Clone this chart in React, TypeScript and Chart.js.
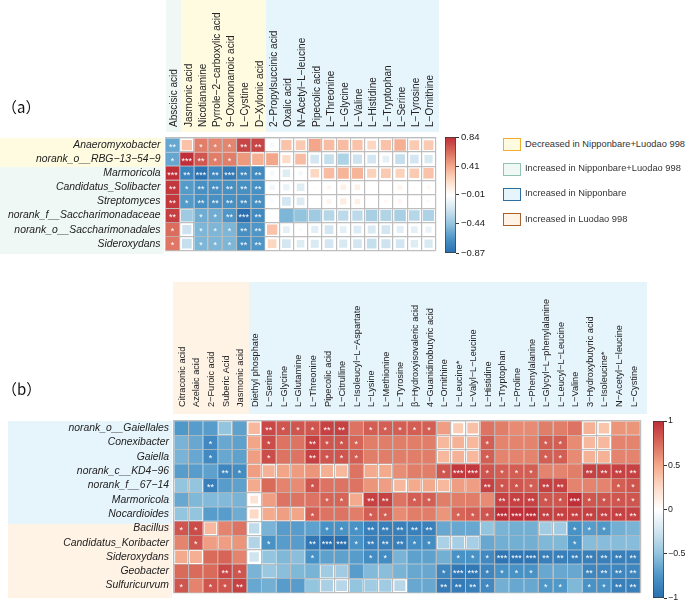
import React, { useEffect, useRef } from "react";
import { Chart, registerables } from "chart.js";
Chart.register(...registerables);

const FONT = "'Liberation Sans', Arial, sans-serif";

// ---------- panel (a) ----------
const taxaA = ["Anaeromyxobacter", "norank_o__RBG−13−54−9", "Marmoricola", "Candidatus_Solibacter", "Streptomyces", "norank_f__Saccharimonadaceae", "norank_o__Saccharimonadales", "Sideroxydans"];
const metabolitesA = ["Abscisic acid", "Jasmonic acid", "Nicotianamine", "Pyrrole−2−carboxylic acid", "9−Oxononanoic acid", "L−Cystine", "D−Xylonic acid", "2−Propylsuccinic acid", "Oxalic acid", "N−Acetyl−L−leucine", "Pipecolic acid", "L−Threonine", "L−Glycine", "L−Valine", "L−Histidine", "L−Tryptophan", "L−Serine", "L−Tyrosine", "L−Ornithine"];
const valuesA = [
  [-0.55, 0.28, 0.5, 0.48, 0.48, 0.68, 0.68, -0.05, 0.28, 0.25, 0.38, 0.3, 0.3, 0.28, 0.2, 0.28, 0.35, 0.25, 0.25],
  [-0.55, 0.8, 0.62, 0.5, 0.5, 0.42, 0.35, 0.38, 0.18, 0.3, -0.2, -0.25, -0.33, -0.22, -0.2, -0.12, -0.25, -0.2, -0.18],
  [0.84, -0.72, -0.82, -0.7, -0.78, -0.7, -0.68, -0.05, -0.15, -0.05, 0.2, 0.3, 0.33, 0.33, 0.22, 0.25, 0.22, 0.25, 0.28],
  [0.72, -0.6, -0.65, -0.65, -0.65, -0.65, -0.65, -0.07, -0.1, -0.15, 0.02, 0.05, 0.08, 0.08, 0.01, 0.01, 0.06, 0.02, 0.04],
  [0.72, -0.6, -0.65, -0.65, -0.65, -0.68, -0.65, -0.03, -0.2, -0.16, 0.01, 0.06, 0.1, 0.08, 0.01, 0.03, 0.05, 0.01, 0.03],
  [0.7, -0.38, -0.52, -0.52, -0.62, -0.87, -0.68, -0.01, -0.48, -0.42, -0.38, -0.3, -0.28, -0.28, -0.35, -0.32, -0.35, -0.3, -0.33],
  [0.55, -0.22, -0.48, -0.48, -0.48, -0.65, -0.62, 0.28, -0.12, -0.03, -0.13, -0.2, -0.12, -0.16, -0.17, -0.2, -0.13, -0.12, -0.1],
  [0.52, -0.25, -0.48, -0.48, -0.48, -0.65, -0.62, 0.2, -0.2, -0.15, -0.17, -0.2, -0.18, -0.2, -0.25, -0.22, -0.2, -0.15, -0.18],
];
const starsA = [
  ["**", "", "*", "*", "*", "**", "**"],
  ["*", "***", "**", "*", "*", "", ""],
  ["***", "**", "***", "**", "***", "**", "**"],
  ["**", "*", "**", "**", "**", "**", "**"],
  ["**", "*", "**", "**", "**", "**", "**"],
  ["**", "", "*", "*", "**", "***", "**"],
  ["*", "", "*", "*", "*", "**", "**"],
  ["*", "", "*", "*", "*", "**", "**"],
];

// ---------- panel (b) ----------
const taxaB = ["norank_o__Gaiellales", "Conexibacter", "Gaiella", "norank_c__KD4−96", "norank_f__67−14", "Marmoricola", "Nocardioides", "Bacillus", "Candidatus_Koribacter", "Sideroxydans", "Geobacter", "Sulfuricurvum"];
const metabolitesB = ["Citraconic acid", "Azelaic acid", "2−Furoic acid", "Suberic Acid", "Jasmonic acid", "Diethyl phosphate", "L−Serine", "L−Glycine", "L−Glutamine", "L−Threonine", "Pipecolic acid", "L−Citrulline", "L−Isoleucyl−L−Aspartate", "L−Lysine", "L−Methionine", "L−Tyrosine", "β−Hydroxyisovaleric acid", "4−Guanidinobutyric acid", "L−Ornithine", "L−Leucine*", "L−Valyl−L−Leucine", "L−Histidine", "L−Tryptophan", "L−Proline", "L−Phenylalanine", "L−Glycyl−L−phenylalanine", "L−Leucyl−L−Leucine", "L−Valine", "3−Hydroxybutyric acid", "L−Isoleucine*", "N−Acetyl−L−leucine", "L−Cystine"];
const valuesB = [
  [-0.62, -0.6, -0.6, -0.42, -0.58, 0.33, 0.7, 0.65, 0.65, 0.65, 0.72, 0.72, 0.55, 0.62, 0.62, 0.62, 0.62, 0.62, 0.42, 0.25, 0.3, 0.55, 0.52, 0.48, 0.48, 0.52, 0.52, 0.55, 0.35, 0.28, 0.45, 0.45],
  [-0.5, -0.55, -0.7, -0.55, -0.58, 0.4, 0.68, 0.55, 0.55, 0.72, 0.65, 0.65, 0.6, 0.52, 0.52, 0.52, 0.52, 0.52, 0.33, 0.35, 0.33, 0.62, 0.5, 0.5, 0.5, 0.62, 0.62, 0.48, 0.33, 0.33, 0.5, 0.5],
  [-0.5, -0.55, -0.7, -0.55, -0.58, 0.42, 0.68, 0.55, 0.55, 0.72, 0.65, 0.65, 0.62, 0.52, 0.52, 0.52, 0.52, 0.52, 0.33, 0.35, 0.33, 0.62, 0.5, 0.5, 0.5, 0.62, 0.62, 0.48, 0.35, 0.35, 0.5, 0.5],
  [-0.6, -0.6, -0.58, -0.72, -0.68, 0.42, 0.35, 0.4, 0.43, 0.45, 0.36, 0.33, 0.55, 0.38, 0.38, 0.47, 0.52, 0.52, 0.65, 0.75, 0.75, 0.65, 0.62, 0.62, 0.62, 0.5, 0.5, 0.52, 0.72, 0.72, 0.72, 0.72],
  [-0.42, -0.42, -0.75, -0.6, -0.58, 0.38, 0.58, 0.5, 0.48, 0.65, 0.55, 0.55, 0.55, 0.45, 0.42, 0.33, 0.38, 0.38, 0.33, 0.42, 0.42, 0.72, 0.65, 0.65, 0.62, 0.72, 0.72, 0.5, 0.5, 0.5, 0.62, 0.65],
  [-0.55, -0.48, -0.47, -0.47, -0.5, 0.15, 0.42, 0.55, 0.55, 0.55, 0.6, 0.6, 0.38, 0.72, 0.72, 0.55, 0.62, 0.62, 0.52, 0.52, 0.52, 0.48, 0.72, 0.72, 0.72, 0.65, 0.65, 0.8, 0.65, 0.65, 0.65, 0.65],
  [-0.42, -0.42, -0.6, -0.6, -0.53, 0.2, 0.38, 0.42, 0.4, 0.62, 0.55, 0.55, 0.52, 0.62, 0.62, 0.48, 0.52, 0.52, 0.45, 0.6, 0.62, 0.65, 0.82, 0.82, 0.82, 0.72, 0.72, 0.72, 0.72, 0.72, 0.72, 0.72],
  [0.65, 0.68, 0.33, 0.5, 0.55, -0.27, -0.5, -0.6, -0.6, -0.58, -0.65, -0.65, -0.65, -0.75, -0.75, -0.75, -0.75, -0.75, -0.55, -0.55, -0.55, -0.42, -0.5, -0.52, -0.52, -0.38, -0.38, -0.65, -0.6, -0.62, -0.52, -0.5],
  [0.5, 0.65, 0.42, 0.42, 0.45, -0.32, -0.65, -0.6, -0.6, -0.8, -0.85, -0.85, -0.65, -0.75, -0.75, -0.75, -0.68, -0.68, -0.35, -0.36, -0.36, -0.55, -0.52, -0.52, -0.52, -0.48, -0.48, -0.65, -0.46, -0.46, -0.46, -0.46],
  [0.38, 0.36, 0.58, 0.6, 0.5, -0.22, -0.42, -0.48, -0.45, -0.65, -0.58, -0.58, -0.6, -0.68, -0.68, -0.5, -0.58, -0.58, -0.52, -0.65, -0.65, -0.7, -0.82, -0.82, -0.82, -0.75, -0.75, -0.75, -0.75, -0.75, -0.75, -0.75],
  [0.58, 0.58, 0.58, 0.7, 0.65, -0.5, -0.4, -0.45, -0.48, -0.5, -0.38, -0.38, -0.6, -0.47, -0.45, -0.5, -0.55, -0.55, -0.72, -0.8, -0.8, -0.72, -0.65, -0.65, -0.65, -0.55, -0.55, -0.55, -0.72, -0.72, -0.72, -0.72],
  [0.65, 0.5, 0.65, 0.65, 0.72, -0.55, -0.52, -0.6, -0.6, -0.42, -0.35, -0.3, -0.42, -0.38, -0.38, -0.3, -0.55, -0.55, -0.78, -0.78, -0.75, -0.7, -0.52, -0.55, -0.55, -0.62, -0.62, -0.48, -0.65, -0.65, -0.75, -0.75],
];
// sparse star table: [row, column, stars]
const starsB: [number, number, string][] = [
  [0, 6, "**"], [0, 7, "*"], [0, 8, "*"], [0, 9, "*"], [0, 10, "**"], [0, 11, "**"], [0, 13, "*"], [0, 14, "*"], [0, 15, "*"], [0, 16, "*"], [0, 17, "*"],
  [1, 2, "*"], [1, 6, "*"], [1, 9, "**"], [1, 10, "*"], [1, 11, "*"], [1, 12, "*"], [1, 21, "*"], [1, 25, "*"], [1, 26, "*"],
  [2, 2, "*"], [2, 6, "*"], [2, 9, "**"], [2, 10, "*"], [2, 11, "*"], [2, 12, "*"], [2, 21, "*"], [2, 25, "*"], [2, 26, "*"],
  [3, 3, "**"], [3, 4, "*"], [3, 18, "*"], [3, 19, "***"], [3, 20, "***"], [3, 21, "*"], [3, 22, "*"], [3, 23, "*"], [3, 24, "*"], [3, 28, "**"], [3, 29, "**"], [3, 30, "**"], [3, 31, "**"],
  [4, 2, "**"], [4, 9, "*"], [4, 21, "**"], [4, 22, "*"], [4, 23, "*"], [4, 24, "*"], [4, 25, "**"], [4, 26, "**"], [4, 30, "*"], [4, 31, "*"],
  [5, 10, "*"], [5, 11, "*"], [5, 13, "**"], [5, 14, "**"], [5, 16, "*"], [5, 17, "*"], [5, 22, "**"], [5, 23, "**"], [5, 24, "**"], [5, 25, "*"], [5, 26, "*"], [5, 27, "***"], [5, 28, "*"], [5, 29, "*"], [5, 30, "*"], [5, 31, "*"],
  [6, 9, "*"], [6, 13, "*"], [6, 14, "*"], [6, 19, "*"], [6, 20, "*"], [6, 21, "*"], [6, 22, "***"], [6, 23, "***"], [6, 24, "***"], [6, 25, "**"], [6, 26, "**"], [6, 27, "**"], [6, 28, "**"], [6, 29, "**"], [6, 30, "**"], [6, 31, "**"],
  [7, 0, "*"], [7, 1, "*"], [7, 10, "*"], [7, 11, "*"], [7, 12, "*"], [7, 13, "**"], [7, 14, "**"], [7, 15, "**"], [7, 16, "**"], [7, 17, "**"], [7, 27, "*"], [7, 28, "*"], [7, 29, "*"],
  [8, 1, "*"], [8, 6, "*"], [8, 9, "**"], [8, 10, "***"], [8, 11, "***"], [8, 12, "*"], [8, 13, "**"], [8, 14, "**"], [8, 15, "**"], [8, 16, "*"], [8, 17, "*"], [8, 27, "*"],
  [9, 9, "*"], [9, 13, "*"], [9, 14, "*"], [9, 19, "*"], [9, 20, "*"], [9, 21, "*"], [9, 22, "***"], [9, 23, "***"], [9, 24, "***"], [9, 25, "**"], [9, 26, "**"], [9, 27, "**"], [9, 28, "**"], [9, 29, "**"], [9, 30, "**"], [9, 31, "**"],
  [10, 3, "**"], [10, 4, "*"], [10, 18, "*"], [10, 19, "***"], [10, 20, "***"], [10, 21, "*"], [10, 22, "*"], [10, 23, "*"], [10, 24, "*"], [10, 28, "**"], [10, 29, "**"], [10, 30, "**"], [10, 31, "**"],
  [11, 0, "*"], [11, 2, "*"], [11, 3, "*"], [11, 4, "**"], [11, 18, "**"], [11, 19, "**"], [11, 20, "**"], [11, 21, "*"], [11, 25, "*"], [11, 26, "*"], [11, 28, "*"], [11, 29, "*"], [11, 30, "**"], [11, 31, "**"],
];

// ---------- colour bars and legend ----------
const barTicksA = [0.84, 0.41, -0.01, -0.44, -0.87];
const barLabelsA = ["0.84", "0.41", "−0.01", "−0.44", "−0.87"];
const barTicksB = [1, 0.5, 0, -0.5, -1];
const barLabelsB = ["1", "0.5", "0", "−0.5", "−1"];
const legendLabels = ["Decreased in Nipponbare+Luodao 998", "Increased in Nipponbare+Luodao 998", "Increased in Nipponbare", "Increased in Luodao 998"];

const C = { yellow: "#FFFBE0", green: "#EFF8F5", blue: "#E6F4FC", orange: "#FFF3E6" };
const legendFill = [C.yellow, C.green, C.blue, C.orange];
const legendEdge = ["#EFB02E", "#90C4B0", "#2F6F9F", "#A9622E"];

const RED: [number, string][] = [[0, "#FFFFFF"], [0.25, "#FDDBC7"], [0.5, "#F4A88A"], [0.75, "#D8695A"], [1, "#BE2F38"]];
const BLUE: [number, string][] = [[0, "#FFFFFF"], [0.25, "#D1E5F0"], [0.5, "#93C4DE"], [0.75, "#4A94C6"], [1, "#2A6FB0"]];

function hex(s: string) {
  return [1, 3, 5].map((i) => parseInt(s.slice(i, i + 2), 16));
}
function ramp(stops: [number, string][], t: number) {
  const u = Math.min(1, Math.max(0, t));
  for (let i = 1; i < stops.length; i++) {
    if (u <= stops[i][0]) {
      const f = (u - stops[i - 1][0]) / (stops[i][0] - stops[i - 1][0]);
      const a = hex(stops[i - 1][1]);
      const b = hex(stops[i][1]);
      return `rgb(${a.map((x, k) => Math.round(x + (b[k] - x) * f)).join(",")})`;
    }
  }
  return stops[stops.length - 1][1];
}

function Heat(p: { taxa: string[]; mets: string[]; vals: number[][]; stars: [number, number, string][]; redMax: number; blueMax: number; w: number; h: number; left: number; right: number; top: number; bottom: number; xFont: number; yFont: number; xPad: number; xShift: number }) {
  const ref = useRef<HTMLCanvasElement>(null);
  useEffect(() => {
    const points: any[] = [];
    p.vals.forEach((row, r) => row.forEach((v, c) => points.push({ x: p.mets[c], y: p.taxa[r], v })));
    const cell = (p.right - p.left) / p.mets.length;
    const radius = (c: any) => (Math.min(0.92, 1.35 * Math.sqrt(Math.abs(c.raw ? c.raw.v : 0))) * cell) / Math.SQRT2;
    const stat = {
      id: "stars",
      afterDatasetsDraw(chart: any) {
        const { ctx, scales } = chart;
        ctx.save();
        ctx.fillStyle = "#FFFFFF";
        ctx.font = `9px ${FONT}`;
        ctx.textAlign = "center";
        ctx.textBaseline = "middle";
        p.stars.forEach(([r, c, s]) => ctx.fillText(s, scales.x.getPixelForValue(c), scales.y.getPixelForValue(r) + 2));
        ctx.restore();
      },
    };
    const chart = new Chart(ref.current!, {
      type: "scatter",
      data: {
        datasets: [{
          data: points,
          pointStyle: "rect",
          pointBorderWidth: 0,
          pointBackgroundColor: (c: any) => {
            const v = c.raw ? c.raw.v : 0;
            return v >= 0 ? ramp(RED, v / p.redMax) : ramp(BLUE, -v / p.blueMax);
          },
          pointRadius: radius,
          pointHoverRadius: radius,
        }] as any,
      },
      options: {
        animation: false,
        responsive: false,
        events: [],
        layout: { padding: { left: 0, top: 0, right: p.w - p.right, bottom: p.h - p.bottom } },
        plugins: { legend: { display: false }, tooltip: { enabled: false } },
        scales: {
          x: {
            type: "category",
            labels: p.mets,
            position: "top",
            offset: true,
            grid: { offset: true, color: "#BEBEBE", lineWidth: 1.2, drawTicks: false },
            border: { color: "#BEBEBE", width: 1.2 },
            ticks: { autoSkip: false, minRotation: 90, maxRotation: 90, padding: p.xPad, labelOffset: p.xShift, color: "#222", font: { family: FONT, size: p.xFont } },
            afterFit: (s: any) => { s.height = p.top; },
          },
          y: {
            type: "category",
            labels: p.taxa,
            offset: true,
            grid: { offset: true, color: "#BEBEBE", lineWidth: 1.2, drawTicks: false },
            border: { color: "#BEBEBE", width: 1.2 },
            ticks: { autoSkip: false, padding: 5, color: "#222", font: { family: FONT, size: p.yFont, style: "italic" } },
            afterFit: (s: any) => { s.width = p.left; },
          },
        } as any,
      },
      plugins: [stat],
    });
    return () => chart.destroy();
  }, []);
  return <canvas ref={ref} width={p.w} height={p.h} style={{ position: "absolute", left: 0, top: 0, display: "block" }} />;
}

function ColorBar(p: { ticks: number[]; labels: string[]; x: number; y: number; w: number; h: number; pad: number; right: number; font: number; tickPad: number }) {
  const ref = useRef<HTMLCanvasElement>(null);
  useEffect(() => {
    const lo = Math.min(...p.ticks);
    const hi = Math.max(...p.ticks);
    const chart = new Chart(ref.current!, {
      type: "bar",
      data: {
        labels: ["scale"],
        datasets: [{
          data: [[lo, hi]] as any,
          barPercentage: 1,
          categoryPercentage: 1,
          borderWidth: 1,
          borderColor: "#3A3A3A",
          borderSkipped: false,
          backgroundColor: (c: any) => {
            const a = c.chart.chartArea;
            if (!a) return "#fff";
            const g = c.chart.ctx.createLinearGradient(0, a.top, 0, a.bottom);
            for (let i = 0; i <= 20; i++) {
              const t = 1 - i / 10;
              g.addColorStop(i / 20, ramp(t >= 0 ? RED : BLUE, Math.abs(t)));
            }
            return g;
          },
        }],
      },
      options: {
        animation: false,
        responsive: false,
        events: [],
        layout: { padding: { left: 0, top: p.pad, bottom: p.pad, right: 0 } },
        plugins: { legend: { display: false }, tooltip: { enabled: false } },
        scales: {
          x: { display: false },
          y: {
            type: "linear",
            position: "right",
            min: lo,
            max: hi,
            afterBuildTicks: (s: any) => { s.ticks = p.ticks.map((value) => ({ value })); },
            grid: { drawOnChartArea: false, drawTicks: true, tickLength: 3, color: "#333" },
            border: { display: false },
            ticks: {
              autoSkip: false,
              padding: p.tickPad,
              color: "#222",
              font: { family: FONT, size: p.font },
              callback: (v: any) => p.labels[p.ticks.indexOf(v)],
            },
            afterFit: (s: any) => { s.width = p.right; },
          },
        } as any,
      },
    });
    return () => chart.destroy();
  }, []);
  return <canvas ref={ref} width={p.w} height={p.h} style={{ position: "absolute", left: p.x, top: p.y, display: "block" }} />;
}

function Band(p: { x0: number; x1: number; y0: number; y1: number; c: string }) {
  return <div style={{ position: "absolute", left: p.x0, top: p.y0, width: p.x1 - p.x0, height: p.y1 - p.y0, background: p.c }} />;
}

const tableA: [number, number, string][] = [];
starsA.forEach((row, r) => row.forEach((s, c) => { if (s) tableA.push([r, c, s]); }));

export default function App() {
  const panelLabel = (y: number, t: string) => (
    <div style={{ position: "absolute", left: 2, top: y, fontFamily: "'Noto Sans CJK SC', sans-serif", fontSize: 15, lineHeight: "18px", color: "#111" }}>{t}</div>
  );
  return (
    <div style={{ position: "absolute", left: 0, top: 0, width: 685, height: 604, overflow: "hidden", background: "#fff" }}>
      <Band x0={166} x1={181} y0={0} y1={132} c={C.green} />
      <Band x0={181} x1={266} y0={0} y1={132} c={C.yellow} />
      <Band x0={266} x1={439} y0={0} y1={132} c={C.blue} />
      <Band x0={0} x1={164} y0={138} y1={167} c={C.yellow} />
      <Band x0={0} x1={164} y0={167} y1={254} c={C.green} />
      <Band x0={173} x1={249} y0={282} y1={414} c={C.orange} />
      <Band x0={249} x1={647} y0={282} y1={414} c={C.blue} />
      <Band x0={8} x1={172} y0={421} y1={524} c={C.blue} />
      <Band x0={8} x1={172} y0={524} y1={598} c={C.orange} />

      <Heat taxa={taxaA} mets={metabolitesA} vals={valuesA} stars={tableA} redMax={0.75} blueMax={0.84} w={445} h={262} left={165.5} right={439} top={138} bottom={253} xFont={10} yFont={10.4} xPad={11} xShift={14} />
      <div style={{ position: "absolute", left: 0, top: 275, width: 650, height: 329 }}>
        <Heat taxa={taxaB} mets={metabolitesB} vals={valuesB} stars={starsB} redMax={0.78} blueMax={0.85} w={650} h={329} left={174} right={647} top={146} bottom={323} xFont={9.2} yFont={10.4} xPad={14} xShift={12} />
      </div>

      <ColorBar ticks={barTicksA} labels={barLabelsA} x={445} y={127} w={60} h={136} pad={10} right={49} font={9.5} tickPad={2} />
      <ColorBar ticks={barTicksB} labels={barLabelsB} x={653} y={411} w={32} h={197} pad={10} right={21} font={8.8} tickPad={1} />

      {legendLabels.map((t, i) => (
        <div key={t} style={{ position: "absolute", left: 503, top: [138, 163, 188, 213][i], width: 18, height: 13, boxSizing: "border-box", border: `1.5px solid ${legendEdge[i]}`, background: legendFill[i] }} />
      ))}
      {legendLabels.map((t, i) => (
        <div key={t + "t"} style={{ position: "absolute", left: 525, top: [138, 162, 187, 213][i], fontFamily: FONT, fontSize: 9.3, lineHeight: "13px", color: "#333", whiteSpace: "nowrap" }}>{t}</div>
      ))}
      {panelLabel(98, "（a）")}
      {panelLabel(380, "（b）")}
    </div>
  );
}
